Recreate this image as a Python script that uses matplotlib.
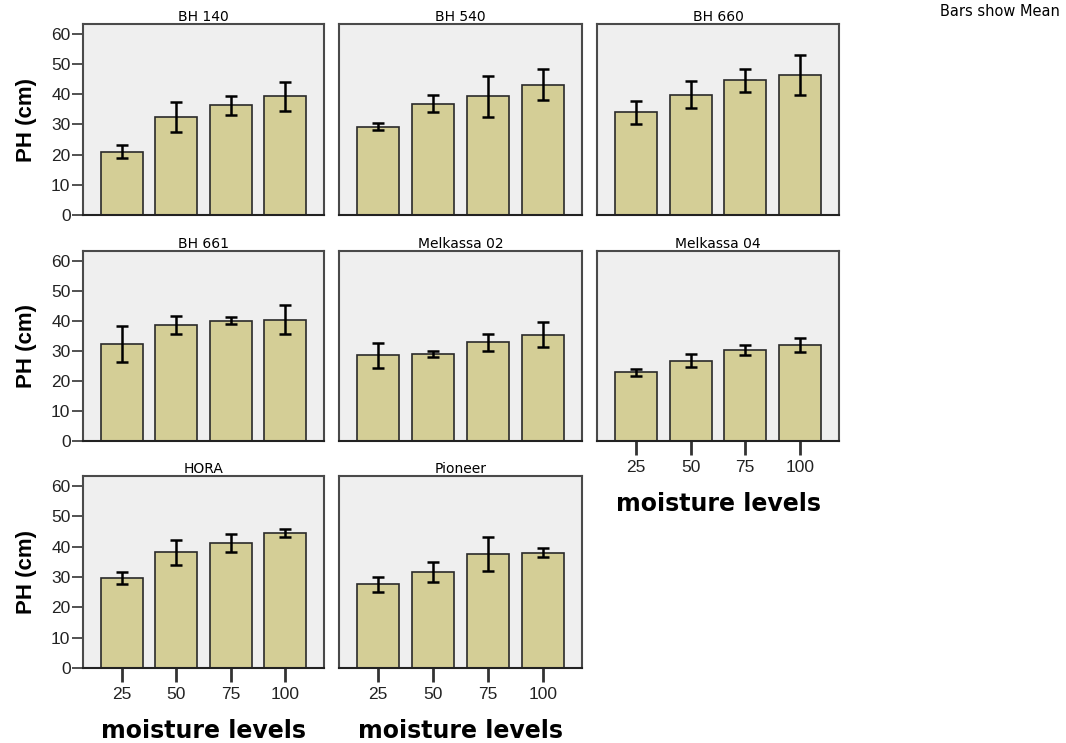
import numpy as np
import matplotlib
matplotlib.use("Agg")
import matplotlib.pyplot as plt

moisture = ["25", "50", "75", "100"]
varieties = ["BH 140", "BH 540", "BH 660", "BH 661",
             "Melkassa 02", "Melkassa 04", "HORA", "Pioneer"]

# mean plant height (cm) per moisture level
bh140 = [20.9, 32.4, 36.4, 39.3]
bh540 = [29.3, 36.9, 39.3, 43.2]
bh660 = [34.0, 39.9, 44.6, 46.5]
bh661 = [32.3, 38.6, 40.1, 40.4]
melkassa02 = [28.5, 28.9, 32.9, 35.4]
melkassa04 = [22.9, 26.8, 30.4, 31.9]
hora = [29.7, 38.2, 41.2, 44.5]
pioneer = [27.6, 31.7, 37.5, 38.0]

# error bar half widths
bh140_err = [2.15, 5.05, 3.1, 4.7]
bh540_err = [1.2, 2.75, 6.75, 5.1]
bh660_err = [3.75, 4.55, 3.75, 6.6]
bh661_err = [5.95, 3.1, 1.1, 4.8]
melkassa02_err = [4.15, 1.0, 2.75, 4.2]
melkassa04_err = [1.15, 2.05, 1.7, 2.25]
hora_err = [2.0, 4.15, 3.0, 1.25]
pioneer_err = [2.55, 3.25, 5.65, 1.55]

means = [bh140, bh540, bh660, bh661, melkassa02, melkassa04, hora, pioneer]
errs = [bh140_err, bh540_err, bh660_err, bh661_err,
        melkassa02_err, melkassa04_err, hora_err, pioneer_err]

W, H = 1066, 743
fig = plt.figure(figsize=(W / 100, H / 100), dpi=100)

cols = [(83, 324), (339, 582), (597, 839)]
rows = [(24, 215), (251, 441), (476, 668)]

bar_color = "#d4ce96"
frame = "#4a4a4a"
x = np.arange(len(moisture))

for i, (name, m, e) in enumerate(zip(varieties, means, errs)):
    r, c = divmod(i, 3)
    x0, x1 = cols[c]
    y0, y1 = rows[r]
    ax = fig.add_axes([x0 / W, 1 - y1 / H, (x1 - x0) / W, (y1 - y0) / H])
    ax.set_facecolor("#efefef")
    ax.bar(x, m, width=0.77, color=bar_color, edgecolor="#2a2a2a", linewidth=1.2)
    ax.errorbar(x, m, yerr=e, fmt="none", ecolor="black", elinewidth=1.8,
                capsize=4, capthick=1.8)
    ax.set_xlim(-0.716, 3.716)
    ax.set_ylim(0, 63.3)
    for s in ax.spines.values():
        s.set_color(frame)
        s.set_linewidth(1.5)
    ax.spines["bottom"].set_color("#222222")
    ax.set_title(name, fontsize=10, family="DejaVu Sans", pad=-1)

    if c == 0:
        ax.set_yticks([0, 10, 20, 30, 40, 50, 60])
        ax.tick_params(axis="y", length=8, width=1.2, color="#333333",
                       labelsize=12.5, pad=1)
        for t in ax.get_yticklabels():
            t.set_family("Liberation Sans")
            t.set_color("#222222")
        ax.set_ylabel("PH (cm)", fontsize=16, fontweight="bold",
                      family="Liberation Sans", labelpad=10)
    else:
        ax.set_yticks([])

    if i >= 5:
        ax.set_xticks(x)
        ax.set_xticklabels(moisture)
        ax.tick_params(axis="x", length=10, width=2, color="#333333",
                       labelsize=12.5, pad=4)
        for t in ax.get_xticklabels():
            t.set_family("Liberation Sans")
            t.set_color("#222222")
        ax.set_xlabel("moisture levels", fontsize=17, fontweight="bold",
                      labelpad=12)
    else:
        ax.set_xticks([])

fig.text(1060 / W, 1 - 12 / H, "Bars show Mean", ha="right", va="center",
         fontsize=10.5, family="DejaVu Sans")

fig.savefig("out.png", dpi=100)
